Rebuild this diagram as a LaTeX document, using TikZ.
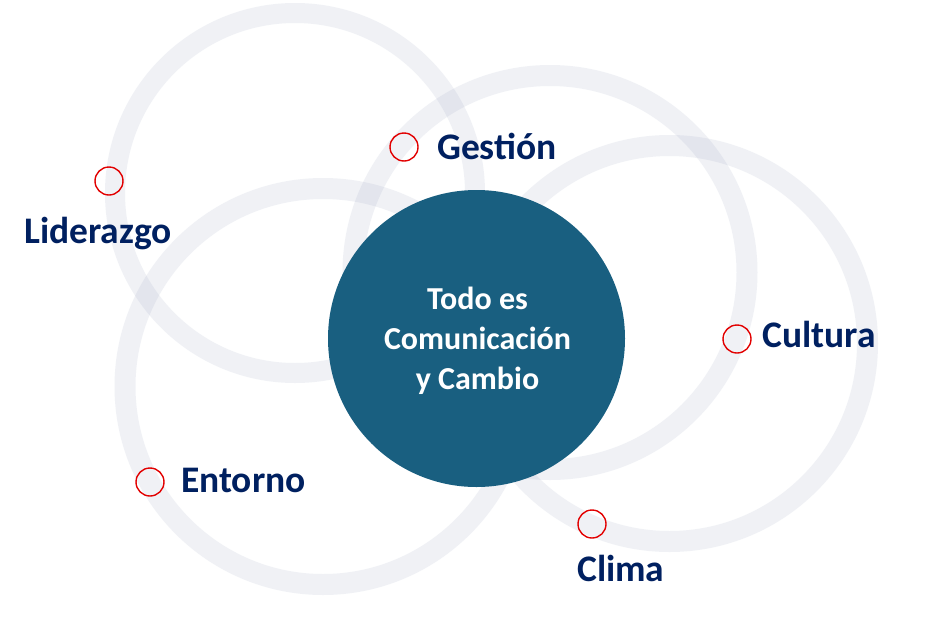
\documentclass[tikz,border=0pt]{standalone}
\usepackage{fontspec}
\setmainfont{Carlito}
\definecolor{ringc}{RGB}{150,160,190}
\definecolor{teal}{RGB}{25,95,128}
\definecolor{navy}{RGB}{0,32,96}
\definecolor{mred}{RGB}{226,0,0}
\tikzset{
  ring/.style={draw=ringc, draw opacity=0.14, line width=21pt},
  marker/.style={circle, draw=mred, line width=1.4pt, minimum size=28pt, inner sep=0pt},
  lbl/.style={anchor=base west, inner sep=0pt, text=navy, font=\fontsize{37.5}{44}\selectfont\bfseries},
}
\begin{document}
\begin{tikzpicture}[x=1pt,y=-1pt]
\useasboundingbox[fill=white] (0,0) rectangle (940,643);
% rings
\draw[ring, line width=20pt] (295,193) circle (180pt);
\draw[ring] (550,272.5) circle (197pt);
\draw[ring] (669.5,343.5) circle (198pt);
\draw[ring] (323,386.5) circle (198pt);
% central circle
\node[circle, fill=teal, minimum size=297pt, inner sep=0pt] (core) at (476.5,338.5) {};
\node[align=center, text=white, font=\fontsize{32}{40}\selectfont\bfseries] (coretext) at (477.5,341) {Todo es\\Comunicación\\y Cambio};
% markers
\node[marker] (m1) at (109,181) {};
\node[marker] (m2) at (404,147) {};
\node[marker] (m3) at (737,339) {};
\node[marker] (m4) at (592,524) {};
\node[marker] (m5) at (150,482) {};
% labels
\node[lbl] (l1) at (24,243) {Liderazgo};
\node[lbl] (l2) at (437,159) {Gestión};
\node[lbl] (l3) at (762,347) {Cultura};
\node[lbl] (l4) at (181,492) {Entorno};
\node[lbl] (l5) at (577,581) {Clima};
\end{tikzpicture}
\end{document}
